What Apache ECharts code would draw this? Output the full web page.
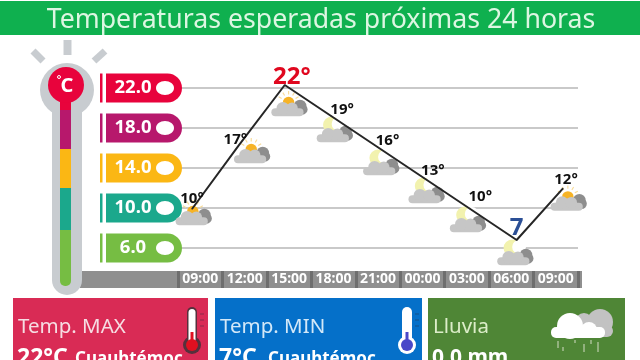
<!DOCTYPE html>
<html>
<head>
<meta charset="utf-8">
<style>
  html, body { margin: 0; padding: 0; background: #fff; }
  #chart { width: 640px; height: 360px; }
</style>
<script src="https://cdn.jsdelivr.net/npm/echarts@6/dist/echarts.min.js"></script>
</head>
<body>
<div id="chart"></div>
<script>
const titleText = 'Temperaturas esperadas próximas 24 horas';
const hours = ['09:00', '12:00', '15:00', '18:00', '21:00', '00:00', '03:00', '06:00', '09:00'];
const tempLine = [10, 16.1, 22, 19, 16, 13, 10, 7, 12];   // as the line is drawn
const tempLabels = ['10°', '17°', '22°', '19°', '16°', '13°', '10°', '7', '12°'];
const skyIcons = ['sun', 'sun', 'sun', 'moon', 'moon', 'moon', 'moon', 'moon', 'sun'];
const scaleLevels = [22, 18, 14, 10, 6];
const scaleLabels = ['22.0', '18.0', '14.0', '10.0', '6.0'];

const font = '"Noto Sans", sans-serif';
const levelColors = ['#e8033c', '#b7186c', '#fbb714', '#1ba88c', '#76bd43'];
const labelShift = [[0, -10], [-3, -6], [7, -8], [11, -6], [10, -6], [9, -7], [10, -12], [0, -12], [3, -9]];
const iconShift = [[2, 6], [14, 7], [5, 21], [4, 16], [4, 18], [3, 15], [-2, 13], [-1, 15], [6, 12]];

const chart = echarts.init(document.getElementById('chart'));

// cloud with a sun or a moon behind it, drawn round the point of the line
function renderSky(params, api) {
    const i = params.dataIndex;
    const p = api.coord([api.value(0), api.value(1)]);
    const kids = [];
    const circle = (x, y, r, fill) => kids.push({ type: 'circle', shape: { cx: x, cy: y, r: r }, style: { fill: fill } });
    if (skyIcons[i] === 'sun') {
        for (let a = -150; a <= -30; a += 30) {
            const c = Math.cos(a * Math.PI / 180), s = Math.sin(a * Math.PI / 180);
            kids.push({ type: 'line', shape: { x1: -1 + c * 7, y1: -3 + s * 7, x2: -1 + c * 10, y2: -3 + s * 10 },
                style: { stroke: '#f8dc9a', lineWidth: 1 } });
        }
        circle(-1, -3, 5, '#f6b326');
    } else {
        circle(-3, -6, 7.5, '#f2f2ae');
        circle(3, -7, 6, '#ffffff');
    }
    circle(9, 0, 5.5, '#8e8e8e');
    circle(11, 3, 4.5, '#8e8e8e');
    kids.push({ type: 'rect', shape: { x: -16, y: 2, width: 28, height: 7, r: 3.5 }, style: { fill: '#c6c6c6' } });
    circle(-6, 2, 5.5, '#c6c6c6');
    circle(2, 2, 5, '#c6c6c6');
    return { type: 'group', x: p[0] + iconShift[i][0], y: p[1] + iconShift[i][1], scaleX: 1.15, scaleY: 1.15, children: kids };
}

// coloured tabs of the thermometer scale, at the level of each grid line
function renderTab(params, api) {
    const i = params.dataIndex;
    const y = api.coord([0, api.value(1)])[1];
    const left = params.coordSys.x - 72;
    const color = levelColors[i];
    return { type: 'group', children: [
        { type: 'rect', shape: { x: left - 6, y: y - 14.5, width: 2.5, height: 29 }, style: { fill: color } },
        { type: 'rect', shape: { x: left, y: y - 14.5, width: 76, height: 29, r: [0, 14.5, 14.5, 0] }, style: { fill: color } },
        { type: 'ellipse', shape: { cx: left + 59, cy: y, rx: 9, ry: 7 }, style: { fill: '#fff' } },
        { type: 'text', x: left + 27, y: y, style: { text: scaleLabels[i], fill: '#fff', font: 'bold 18.5px ' + font, align: 'center', verticalAlign: 'middle' } }
    ] };
}

const pointData = tempLine.map((v, i) => {
    const big = v === Math.max(...tempLine) || v === Math.min(...tempLine);
    return {
        value: v,
        label: {
            formatter: tempLabels[i],
            offset: labelShift[i],
            fontSize: big ? 24 : 15,
            color: i === 2 ? '#e0081f' : (i === 7 ? '#2b4f96' : '#111')
        }
    };
});

// fixed drawing round the chart: header, thermometer, time band, cards
function card(x, w, color, text, title, value, valueSize, place, placeX) {
    return [
        { type: 'rect', shape: { x: x, y: 298, width: w, height: 62 }, style: { fill: color } },
        { type: 'text', x: x + 5, y: 327, style: { text: title, fill: text, font: '20.5px ' + font, verticalAlign: 'middle' } },
        { type: 'text', x: x + 4, y: 358, style: { text: value, fill: '#fff', font: 'bold ' + valueSize + 'px ' + font, verticalAlign: 'middle' } },
        { type: 'text', x: x + placeX, y: 359, style: { text: place, fill: '#fff', font: 'bold 17px ' + font, verticalAlign: 'middle' } }
    ];
}

function cardThermo(x, fill, edge) {
    const kids = [
        { type: 'circle', shape: { cx: x, cy: 345, r: 9 }, style: { fill: edge } },
        { type: 'rect', shape: { x: x - 5, y: 307, width: 10, height: 36, r: 5 }, style: { fill: edge } },
        { type: 'rect', shape: { x: x - 3.5, y: 309, width: 7, height: 34, r: 3.5 }, style: { fill: '#fff' } },
        { type: 'circle', shape: { cx: x, cy: 345, r: 6 }, style: { fill: fill } },
        { type: 'rect', shape: { x: x - 1.5, y: 332, width: 3, height: 10 }, style: { fill: fill } }
    ];
    [314, 320, 326].forEach(y => kids.push({ type: 'line', shape: { x1: x + 8, y1: y, x2: x + 12, y2: y }, style: { stroke: 'rgba(40,40,60,0.45)', lineWidth: 1 } }));
    return kids;
}

const tubeColors = [[110, levelColors[0]], [149, levelColors[1]], [188, levelColors[2]], [230, levelColors[3]], [286, levelColors[4]]];
const gray = '#c8ccd0';
const decor = [
    { type: 'rect', shape: { x: 0, y: 1, width: 640, height: 34 }, style: { fill: '#0fb04f' } },
    { type: 'rect', shape: { x: 80, y: 271, width: 502, height: 17 }, style: { fill: '#8f8f8f' } },
    { type: 'line', shape: { x1: 67.5, y1: 40, x2: 67.5, y2: 55 }, style: { stroke: gray, lineWidth: 8 } },
    { type: 'line', shape: { x1: 33, y1: 51, x2: 43, y2: 61 }, style: { stroke: gray, lineWidth: 7 } },
    { type: 'line', shape: { x1: 105, y1: 51, x2: 94, y2: 61 }, style: { stroke: gray, lineWidth: 7 } },
    { type: 'circle', shape: { cx: 67, cy: 90, r: 27 }, style: { fill: gray } },
    { type: 'rect', shape: { x: 52, y: 90, width: 30, height: 205, r: [0, 0, 15, 15] }, style: { fill: gray } }
];
let tubeTop = 90;
tubeColors.forEach(c => {
    decor.push({ type: 'rect', shape: { x: 60, y: tubeTop, width: 11, height: c[0] - tubeTop, r: c[0] === 286 ? [0, 0, 5, 5] : 0 }, style: { fill: c[1] } });
    tubeTop = c[0];
});
decor.push(
    { type: 'circle', shape: { cx: 66, cy: 85, r: 18 }, style: { fill: levelColors[0] } },
    { type: 'text', x: 67, y: 86, style: { text: 'C', fill: '#fff', font: 'bold 20px ' + font, align: 'center', verticalAlign: 'middle' } },
    { type: 'circle', shape: { cx: 59, cy: 77, r: 1.5 }, style: { fill: 'none', stroke: '#fff', lineWidth: 1 } },
    ...card(13, 195, '#d92b55', '#f6dde3', 'Temp. MAX', '22°C', 23, 'Cuauhtémoc', 62),
    ...cardThermo(192, '#e01020', '#57303c'),
    ...card(215, 207, '#0570c9', '#d3e8f8', 'Temp. MIN', '7°C', 23, 'Cuauhtémoc', 53),
    ...cardThermo(407, '#4a48c8', '#ffffff'),
    ...card(428, 197, '#4f8636', '#dcedc9', 'Lluvia', '0.0 mm', 21, '', 62),
    { type: 'circle', shape: { cx: 600, cy: 322, r: 13 }, style: { fill: '#c2c2c2' } },
    { type: 'circle', shape: { cx: 584, cy: 322, r: 9 }, style: { fill: '#c2c2c2' } },
    { type: 'rect', shape: { x: 585, y: 325, width: 28, height: 12, r: 6 }, style: { fill: '#c2c2c2' } },
    { type: 'circle', shape: { cx: 570, cy: 326, r: 13 }, style: { fill: '#fff' } },
    { type: 'circle', shape: { cx: 589, cy: 330, r: 8 }, style: { fill: '#fff' } },
    { type: 'rect', shape: { x: 551, y: 327, width: 54, height: 11, r: 5 }, style: { fill: '#fff' } }
);
[[558, 341, 348], [563, 347, 351], [575, 340, 343], [584, 344, 352], [591, 340, 344], [598, 342, 352]].forEach(r => {
    decor.push({ type: 'line', shape: { x1: r[0], y1: r[1], x2: r[0], y2: r[2] }, style: { stroke: '#d4dcc4', lineWidth: 1 } });
});

const option = {
    backgroundColor: '#fff',
    animation: false,
    title: {
        text: titleText,
        left: 316,
        top: 2,
        textAlign: 'center',
        textStyle: { color: '#dcf6e2', fontFamily: font, fontWeight: 'normal', fontSize: 26.7 },
        z: 8
    },
    graphic: { z: 1, elements: decor },
    grid: [
        { left: 178, top: 88, width: 400, height: 200 },
        { left: 192, top: 85, width: 371, height: 155 }
    ],
    xAxis: [
        {
            type: 'category', gridIndex: 0, data: hours, z: 5,
            axisLine: { show: false },
            axisTick: { show: true, inside: true, length: 17, lineStyle: { color: '#6e6e6e', width: 3 } },
            axisLabel: { inside: true, margin: 2, color: '#fff', fontFamily: font, fontWeight: 'bold', fontSize: 14, interval: 0 }
        },
        { type: 'category', gridIndex: 1, data: hours, boundaryGap: false, show: false }
    ],
    yAxis: [
        {
            type: 'value', gridIndex: 0, min: 2, max: 22, interval: 4,
            axisLine: { show: false }, axisTick: { show: false }, axisLabel: { show: false },
            splitLine: { show: true, showMinLine: false, lineStyle: { color: '#c9c9c9', width: 2 } }
        },
        { type: 'value', gridIndex: 1, min: 7, max: 22, show: false, splitLine: { show: false } }
    ],
    series: [
        {
            type: 'custom', xAxisIndex: 0, yAxisIndex: 0, z: 3,
            data: scaleLevels.map(v => [0, v]),
            renderItem: renderTab,
            clip: false
        },
        {
            type: 'custom', xAxisIndex: 1, yAxisIndex: 1, z: 3,
            data: tempLine.map((v, i) => [i, v]),
            renderItem: renderSky,
            clip: false
        },
        {
            type: 'line', xAxisIndex: 1, yAxisIndex: 1, z: 4,
            data: pointData,
            showSymbol: true, symbol: 'circle', symbolSize: 1, clip: false,
            itemStyle: { color: '#262626' },
            lineStyle: { color: '#262626', width: 2 },
            label: { show: true, position: 'inside', fontFamily: font, fontWeight: 'bold' }
        }
    ]
};

chart.setOption(option);
</script>
</body>
</html>
